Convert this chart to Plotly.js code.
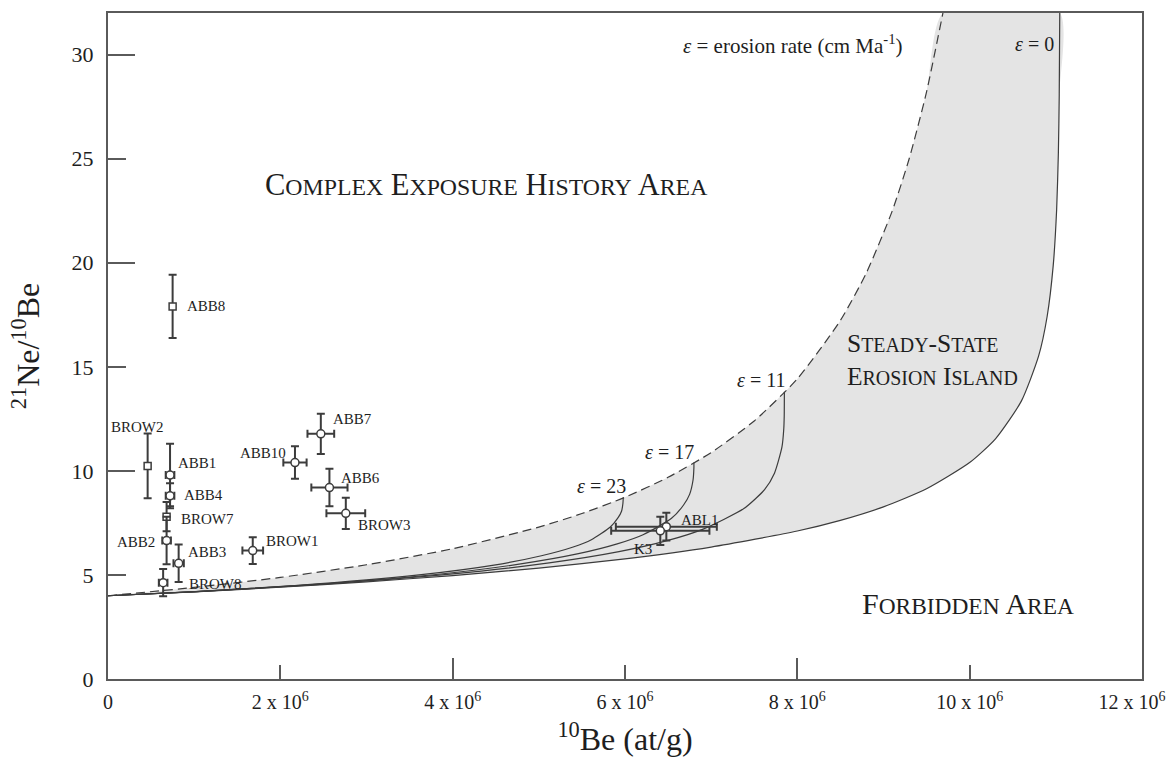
<!DOCTYPE html>
<html>
<head>
<meta charset="utf-8">
<script src="https://cdn.plot.ly/plotly-3.0.1.min.js"></script>
<style>
  html, body { margin: 0; padding: 0; background: #ffffff; }
  #chart { width: 1172px; height: 772px; }
</style>
</head>
<body>
<div id="chart"></div>
<script>
// ---- Samples drawn as open circles (10Be in at/g, 21Ne/10Be ratio, 1-sigma errors) ----
const circleNames   = ['ABB1', 'ABB4', 'ABB2', 'ABB3', 'BROW8', 'BROW1', 'ABB10', 'ABB7', 'ABB6', 'BROW3', 'ABL1', 'K3'];
const circleBe10    = [0.72e6, 0.72e6, 0.68e6, 0.82e6, 0.64e6, 1.68e6, 2.17e6, 2.47e6, 2.57e6, 2.76e6, 6.48e6, 6.41e6];
const circleBe10Err = [0.05e6, 0.05e6, 0.05e6, 0.06e6, 0.05e6, 0.12e6, 0.135e6, 0.155e6, 0.21e6, 0.225e6, 0.586e6, 0.57e6];
const circleRatio   = [9.8, 8.8, 6.65, 5.56, 4.63, 6.17, 10.4, 11.78, 9.2, 7.96, 7.32, 7.12];
const circleRatioErr= [1.5, 0.6, 1.14, 0.9, 0.65, 0.64, 0.78, 0.97, 0.9, 0.75, 0.67, 0.68];

// ---- Samples drawn as open squares ----
const squareNames    = ['ABB8', 'BROW2', 'BROW7'];
const squareBe10     = [0.75e6, 0.46e6, 0.68e6];
const squareRatio    = [17.9, 10.24, 7.8];
const squareRatioErr = [1.52, 1.55, 0.7];

// ---- Steady-state erosion end-member (dashed) ----
const steadyBe10  = [0, 1e6, 2e6, 3e6, 4e6, 5e6, 5.5e6, 6e6, 6.5e6, 7e6, 7.5e6, 8e6, 8.5e6, 8.8e6, 9.1e6, 9.3e6, 9.5e6, 9.69e6];
const steadyRatio = [4.0, 4.40, 4.88, 5.49, 6.26, 7.30, 7.95, 8.73, 9.69, 10.88, 12.40, 14.42, 17.23, 19.50, 22.47, 25.02, 28.21, 32.0];

// ---- Constant exposure, no erosion (epsilon = 0) ----
const zeroBe10  = [0, 1e6, 2e6, 3e6, 4e6, 5e6, 6e6, 7e6, 8e6, 8.5e6, 9e6, 9.5e6, 10e6, 10.3e6, 10.6e6, 10.8e6, 10.9e6, 10.97e6, 11.01e6, 11.03e6, 11.04e6, 11.046e6];
const zeroRatio = [4.0, 4.19, 4.41, 4.67, 4.97, 5.33, 5.77, 6.34, 7.11, 7.62, 8.27, 9.14, 10.40, 11.54, 13.35, 15.51, 17.43, 19.86, 22.57, 25.3, 28.06, 32.0];

// ---- Constant exposure with erosion: epsilon = 23, 17, 11 cm/Ma ----
const eps23Be10  = [0, 1.01e6, 2.21e6, 3.61e6, 4.48e6, 5.03e6, 5.39e6, 5.61e6, 5.83e6, 5.92e6, 5.96e6, 5.976e6, 5.98e6];
const eps23Ratio = [4.0, 4.20, 4.50, 5.00, 5.47, 5.92, 6.33, 6.69, 7.30, 7.75, 8.06, 8.43, 8.72];

const eps17Be10  = [0, 1.02e6, 2.27e6, 3.78e6, 4.79e6, 5.46e6, 5.91e6, 6.21e6, 6.54e6, 6.68e6, 6.75e6, 6.79e6, 6.80e6, 6.80e6];
const eps17Ratio = [4.0, 4.20, 4.51, 5.01, 5.53, 6.02, 6.49, 6.93, 7.72, 8.36, 8.87, 9.56, 10.16, 10.40];

const eps11Be10  = [0, 1.03e6, 2.33e6, 3.97e6, 5.12e6, 5.93e6, 6.50e6, 6.90e6, 7.38e6, 7.62e6, 7.735e6, 7.822e6, 7.843e6, 7.848e6, 7.85e6];
const eps11Ratio = [4.0, 4.20, 4.51, 5.04, 5.58, 6.12, 6.66, 7.19, 8.19, 9.10, 9.89, 11.15, 12.02, 12.61, 13.80];

// ---- Axis ticks ----
const xTickVals = [0, 2e6, 4e6, 6e6, 8e6, 10e6, 12e6];
const xTickText = ['0', '2 x 10<sup>6</sup>', '4 x 10<sup>6</sup>', '6 x 10<sup>6</sup>', '8 x 10<sup>6</sup>', '10 x 10<sup>6</sup>',
                   '12 x 10<sup>6</sup>&nbsp;&nbsp;&nbsp;&nbsp;'];
const xLongTicks = [4e6, 8e6];
const yTickVals = [0, 5, 10, 15, 20, 25, 30];
const yLongTicks = [10, 20, 30];

// Label placement around each sample (pixel shifts and anchor side)
const labelPlacement = {
  ABB8:  [12, 0, 'left'],   BROW2: [-10, 39, 'center'], ABB1: [6, 12, 'left'],
  ABB4:  [12, 1, 'left'],   BROW7: [12, -2, 'left'],    ABB2: [-10, -1, 'right'],
  ABB3:  [7, 11, 'left'],   BROW8: [24, -1, 'left'],    BROW1: [11, 10, 'left'],
  ABB10: [-7, 10, 'right'], ABB7: [10, 15, 'left'],     ABB6: [10, 10, 'left'],
  BROW3: [10, -12, 'left'], ABL1: [13, 7, 'left'],      K3: [-6, -18, 'right']
};

const SERIF = 'Liberation Serif, Times New Roman, serif';
const INK = '#1e1e1e';
const LINE = '#3c3c3c';
const AXIS = '#5a5a5a';
const X_MAX = 12.0005e6;

// Region names set in small capitals: initial letters full size, the rest reduced
const smallCaps = (text, size) => text.split('<br>').map(line =>
  line.split(' ').map(word => word.split('-').map(part =>
    part.charAt(0).toUpperCase() +
    '<span style="font-size:' + (size * 0.78).toFixed(1) + 'px">' + part.slice(1).toUpperCase() + '</span>'
  ).join('-')).join(' ')
).join('<br>');

// Shaded island: steady-state line up to the top, then the zero-erosion line back down
const islandX = steadyBe10.concat(zeroBe10.slice().reverse());
const islandY = steadyRatio.concat(zeroRatio.slice().reverse());

const curve = (x, y, dash) => ({
  type: 'scatter', mode: 'lines', x: x, y: y, hoverinfo: 'skip',
  line: { color: LINE, width: 1.2, shape: 'spline', smoothing: 0.6, dash: dash || 'solid' }
});

const traces = [
  { type: 'scatter', mode: 'lines', x: islandX, y: islandY, fill: 'toself',
    fillcolor: '#e4e4e4', line: { width: 0, shape: 'spline', smoothing: 0.6 }, hoverinfo: 'skip' },
  curve(eps23Be10, eps23Ratio),
  curve(eps17Be10, eps17Ratio),
  curve(eps11Be10, eps11Ratio),
  curve(zeroBe10, zeroRatio),
  curve(steadyBe10, steadyRatio, '9px,5px'),
  { type: 'scatter', mode: 'markers', x: squareBe10, y: squareRatio,
    error_y: { type: 'data', array: squareRatioErr, color: LINE, thickness: 2, width: 4 },
    marker: { symbol: 'square', size: 7, color: '#ffffff', line: { color: LINE, width: 1.5 } } },
  { type: 'scatter', mode: 'markers', x: circleBe10, y: circleRatio,
    error_y: { type: 'data', array: circleRatioErr, color: LINE, thickness: 2, width: 4 },
    error_x: { type: 'data', array: circleBe10Err, color: LINE, thickness: 2, width: 4 },
    marker: { symbol: 'circle', size: 8, color: '#ffffff', line: { color: LINE, width: 1.5 } } },
  // carrier for the long-tick overlay axes
  { type: 'scatter', mode: 'markers', x: [null], y: [null], xaxis: 'x2', yaxis: 'y2', hoverinfo: 'skip' }
];

const annotations = [];
const addLabels = (names, xs, ys) => names.forEach((n, i) => {
  const p = labelPlacement[n];
  annotations.push({ xref: 'x', yref: 'y', x: xs[i], y: ys[i], text: n, showarrow: false,
    xanchor: p[2], yanchor: 'middle', xshift: p[0], yshift: p[1],
    font: { family: SERIF, size: 15, color: INK } });
});
addLabels(squareNames, squareBe10, squareRatio);
addLabels(circleNames, circleBe10, circleRatio);

const note = (text, x, y, xanchor, size, extra) => annotations.push(Object.assign({
  xref: 'x', yref: 'y', x: x, y: y, text: text, showarrow: false, xanchor: xanchor, yanchor: 'middle',
  font: { family: SERIF, size: size, color: INK }
}, extra || {}));

note('<i>ε</i> = erosion rate (cm Ma<sup>-1</sup>)', 9.25e6, 30.5, 'right', 21);
note('<i>ε</i> = 0', 11.0e6, 30.5, 'right', 20);
note('<i>ε</i> = 23', 6.03e6, 9.25, 'right', 20);
note('<i>ε</i> = 17', 6.83e6, 10.93, 'right', 20);
note('<i>ε</i> = 11', 7.88e6, 14.38, 'right', 20);
note(smallCaps('Complex Exposure History Area', 30.5), 1.80e6, 23.75, 'left', 30.5);
note(smallCaps('Steady-State<br>Erosion Island', 25.5), 8.55e6, 15.34, 'left', 25.5, { align: 'left' });
note(smallCaps('Forbidden Area', 30), 8.73e6, 3.65, 'left', 30);

const baseAxis = {
  showgrid: false, zeroline: false, ticks: 'inside', tickwidth: 2, tickcolor: AXIS,
  showline: true, linecolor: AXIS, linewidth: 2, mirror: true
};

const layout = {
  width: 1172, height: 772,
  margin: { l: 108, r: 30, t: 13, b: 93 },
  paper_bgcolor: '#ffffff', plot_bgcolor: '#ffffff',
  font: { family: SERIF, color: INK },
  showlegend: false,
  xaxis: Object.assign({}, baseAxis, {
    range: [0, X_MAX], tickmode: 'array', tickvals: xTickVals, ticktext: xTickText,
    ticklen: 14, ticklabelstandoff: 4, ticklabeloverflow: 'allow',
    tickfont: { family: SERIF, size: 20, color: INK },
    title: { text: '<sup>10</sup>Be (at/g)', font: { family: SERIF, size: 32, color: INK }, standoff: 16 }
  }),
  yaxis: Object.assign({}, baseAxis, {
    range: [0, 32], tickmode: 'array', tickvals: yTickVals,
    ticklen: 18, ticklabelstandoff: 8, tickfont: { family: SERIF, size: 22, color: INK },
    title: { text: '<sup>21</sup>Ne/<sup>10</sup>Be', font: { family: SERIF, size: 32, color: INK }, standoff: 22 }
  }),
  xaxis2: { overlaying: 'x', anchor: 'y2', side: 'bottom', range: [0, X_MAX], tickmode: 'array',
    tickvals: xLongTicks, ticks: 'inside', ticklen: 21, tickwidth: 2, tickcolor: AXIS,
    showticklabels: false, showline: false, showgrid: false, zeroline: false },
  yaxis2: { overlaying: 'y', anchor: 'x2', side: 'left', range: [0, 32], tickmode: 'array',
    tickvals: yLongTicks, ticks: 'inside', ticklen: 27, tickwidth: 2, tickcolor: AXIS,
    showticklabels: false, showline: false, showgrid: false, zeroline: false },
  annotations: annotations
};

Plotly.newPlot('chart', traces, layout, { displayModeBar: false, staticPlot: true });
</script>
</body>
</html>
